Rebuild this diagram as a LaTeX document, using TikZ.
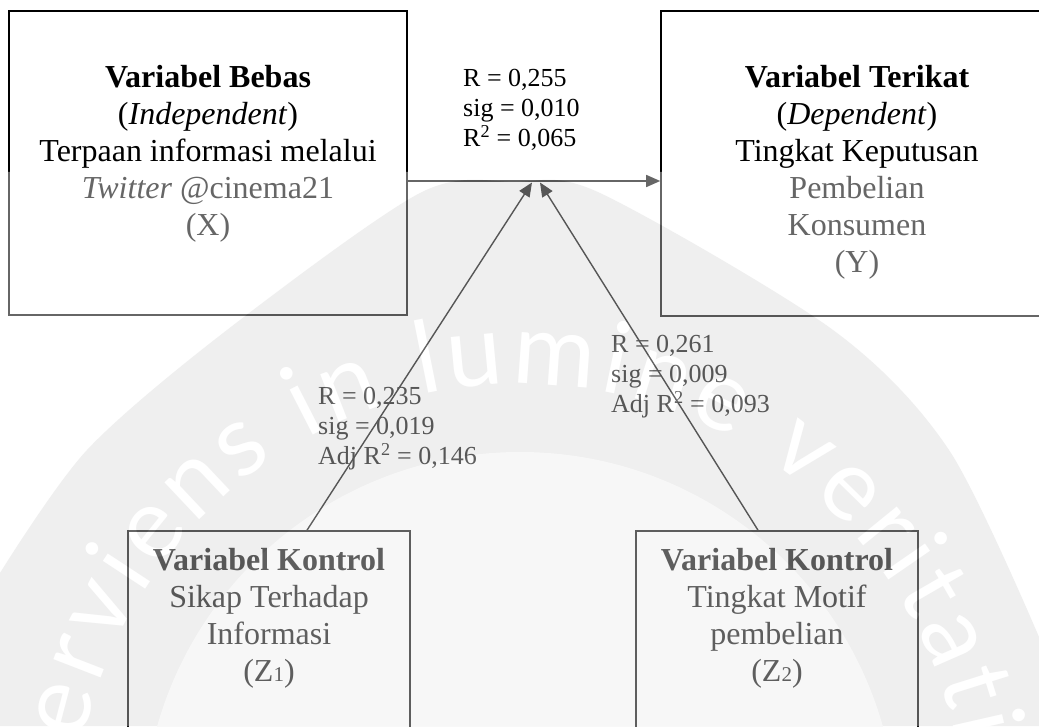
\documentclass[tikz,border=0pt]{standalone}
\usepackage{fontspec}
\setmainfont{Liberation Serif}
\newfontfamily\wmfont{Lato}
\usetikzlibrary{arrows.meta,decorations.text}
\definecolor{wmring}{gray}{0.843}
\definecolor{wminner}{gray}{0.931}
\begin{document}
\begin{tikzpicture}[x=1pt,y=1pt,
  box/.style={draw=black, line width=1.6pt, inner sep=0pt, minimum width=#1},
  boxtext/.style={align=center, inner sep=0pt, anchor=north, font=\fontsize{32}{37}\selectfont},
  stat/.style={align=left, inner sep=0pt, anchor=north west, font=\fontsize{26}{30}\selectfont},
  arr/.style={draw=black, line width=1.4pt, -{Triangle[length=14pt,width=12pt]}}]
\useasboundingbox (0,0) rectangle (1039,726);
\clip (0,0) rectangle (1039,726);
\fill[white] (0,0) rectangle (1039,726);
% boxes
\node[box=398pt, minimum height=304pt] (X) at (208,563) {};
\node[box=392pt, minimum height=305pt] (Y) at (857,562.5) {};
\node[box=282pt, minimum height=215pt] (Z1) at (269,87.5) {};
\node[box=282pt, minimum height=215pt] (Z2) at (777,87.5) {};
% box texts
\node[boxtext] (Xt) at (208,660.4) {\textbf{Variabel Bebas}\\(\textit{Independent})\\Terpaan informasi melalui\\\textit{Twitter} @cinema21\\(X)};
\node[boxtext] (Yt) at (857,660.4) {\textbf{Variabel Terikat}\\(\textit{Dependent})\\Tingkat Keputusan\\Pembelian\\Konsumen\\(Y)};
\node[boxtext] (Z1t) at (269,177.7) {\textbf{Variabel Kontrol}\\Sikap Terhadap\\Informasi\\(Z{\fontsize{21}{21}\selectfont 1})};
\node[boxtext] (Z2t) at (777,177.7) {\textbf{Variabel Kontrol}\\Tingkat Motif\\pembelian\\(Z{\fontsize{21}{21}\selectfont 2})};
% connectors
\coordinate (m1) at (532,543.5);
\coordinate (m2) at (540,543.5);
\draw[arr] ([yshift=-18pt]X.east) -- ([yshift=-18pt]X.east -| Y.west);
\draw[arr] ([xshift=38pt]Z1.north) -- (m1);
\draw[arr] ([xshift=-19pt]Z2.north) -- (m2);
% statistics
\node[stat] (s1) at (463,656.6) {R = 0,255\\sig = 0,010\\R\textsuperscript{2} = 0,065};
\node[stat] (s2) at (318,338.6) {R = 0,235\\sig = 0,019\\Adj R\textsuperscript{2} = 0,146};
\node[stat] (s3) at (611,390.6) {R = 0,261\\sig = 0,009\\Adj R\textsuperscript{2} = 0,093};
% watermark
\begin{scope}[transparency group, opacity=0.4]
  \fill[white] (0,0) rectangle (1039,554);
  \fill[wmring] (0,0) -- plot[smooth] coordinates {(0,153) (87,276) (227,396) (420,533) (515,544) (600,533) (833,396) (949,276) (1039,89)} -- (1039,0) -- cycle;
  \fill[wminner] (520,-103) circle (377);
  \path[decorate, decoration={text along path, text align=fit to path, text color=white,
     text={|\wmfont\fontsize{100}{100}\selectfont|serviens in lumine veritatis}}]
     (520,-103) ++(175:445) arc[start angle=175, end angle=5, radius=445];
\end{scope}
\end{tikzpicture}
\end{document}
